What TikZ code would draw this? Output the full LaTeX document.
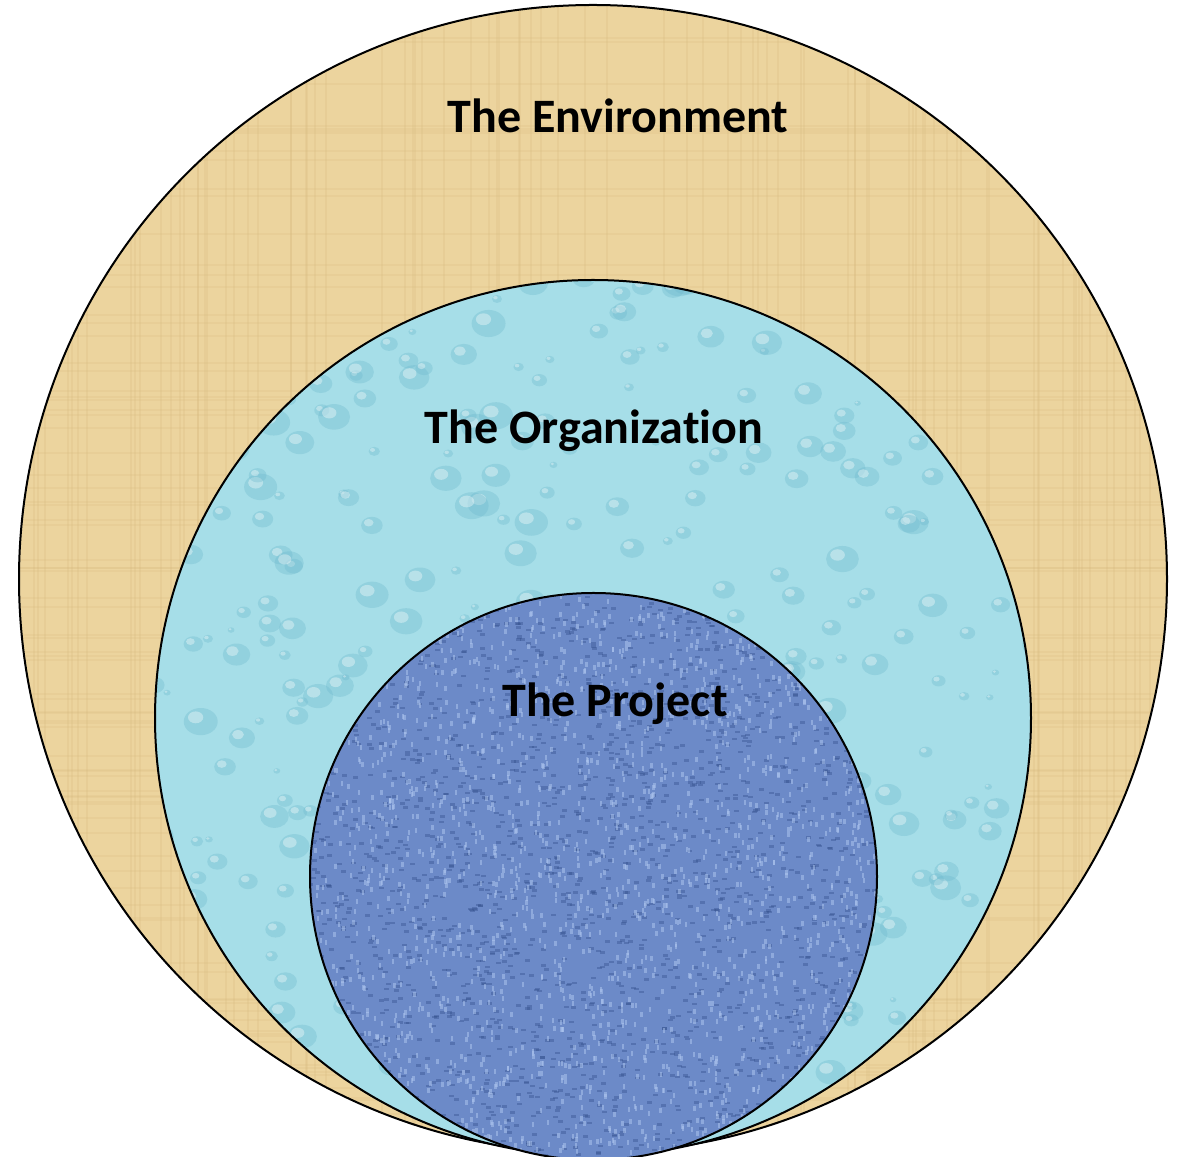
\documentclass[tikz,border=0pt]{standalone}
\usepackage{fontspec}
\setmainfont[Ligatures={NoCommon}]{Carlito}
\begin{document}
\begin{tikzpicture}[x=1pt,y=1pt,
  ring/.style={draw=black,line width=2pt},
  lbl/.style={font=\bfseries\fontsize{48}{50}\selectfont,text=black,anchor=base,inner sep=0pt}]
\definecolor{tan}{RGB}{236,212,158}
\definecolor{tandark}{RGB}{214,184,124}
\definecolor{aqua}{RGB}{166,222,232}
\definecolor{aquadark}{RGB}{110,185,205}
\definecolor{blu}{RGB}{108,138,200}
\definecolor{bludark}{RGB}{52,80,140}
\definecolor{blulight}{RGB}{176,200,240}
\useasboundingbox (0,0) rectangle (1184,1157);
\pgfmathsetseed{7}
% Environment
\coordinate (envc) at (593,578);
\fill[tan] (envc) circle (574);
\begin{scope}
  \clip (envc) circle (574);
  \foreach \i in {1,...,90}{
    \pgfmathsetmacro{\xx}{rnd*1184}
    \draw[tandark,opacity=0.22,line width=2pt] (\xx,0) -- (\xx,1157);
  }
  \foreach \i in {1,...,90}{
    \pgfmathsetmacro{\yy}{rnd*1157}
    \draw[tandark,opacity=0.18,line width=2pt] (0,\yy) -- (1184,\yy);
  }
\end{scope}
\draw[ring] (envc) circle (574);
% Organization
\coordinate (orgc) at (593,439);
\fill[aqua] (orgc) circle (438);
\begin{scope}
  \clip (orgc) circle (438);
  \foreach \i in {1,...,420}{
    \pgfmathsetmacro{\xx}{150+rnd*890}
    \pgfmathsetmacro{\yy}{rnd*880}
    \pgfmathsetmacro{\rr}{3+rnd*14}
    \fill[aquadark,opacity=0.35] (\xx,\yy) ellipse ({\rr} and {\rr*0.8});
    \fill[white,opacity=0.35] (\xx-\rr*0.3,\yy+\rr*0.25) ellipse ({\rr*0.45} and {\rr*0.35});
  }
\end{scope}
\draw[ring] (orgc) circle (438);
% Project
\coordinate (prjc) at (593.5,280.5);
\fill[blu] (prjc) circle (283.5);
\begin{scope}
  \clip (prjc) circle (283.5);
  \foreach \i in {1,...,2200}{
    \pgfmathsetmacro{\xx}{305+rnd*580}
    \pgfmathsetmacro{\yy}{rnd*570}
    \fill[bludark,opacity=0.4] (\xx,\yy) rectangle ++(5,2.5);
  }
  \foreach \i in {1,...,2200}{
    \pgfmathsetmacro{\xx}{305+rnd*580}
    \pgfmathsetmacro{\yy}{rnd*570}
    \fill[blulight,opacity=0.5] (\xx,\yy) rectangle ++(2.5,5);
  }
\end{scope}
\draw[ring] (prjc) circle (283.5);
% Labels
\node[lbl] (env) at (618,1024) {The Environment};
\node[lbl] (org) at (594,713) {The Organization};
\node[lbl] (prj) at (615,440) {The Project};
\end{tikzpicture}
\end{document}
